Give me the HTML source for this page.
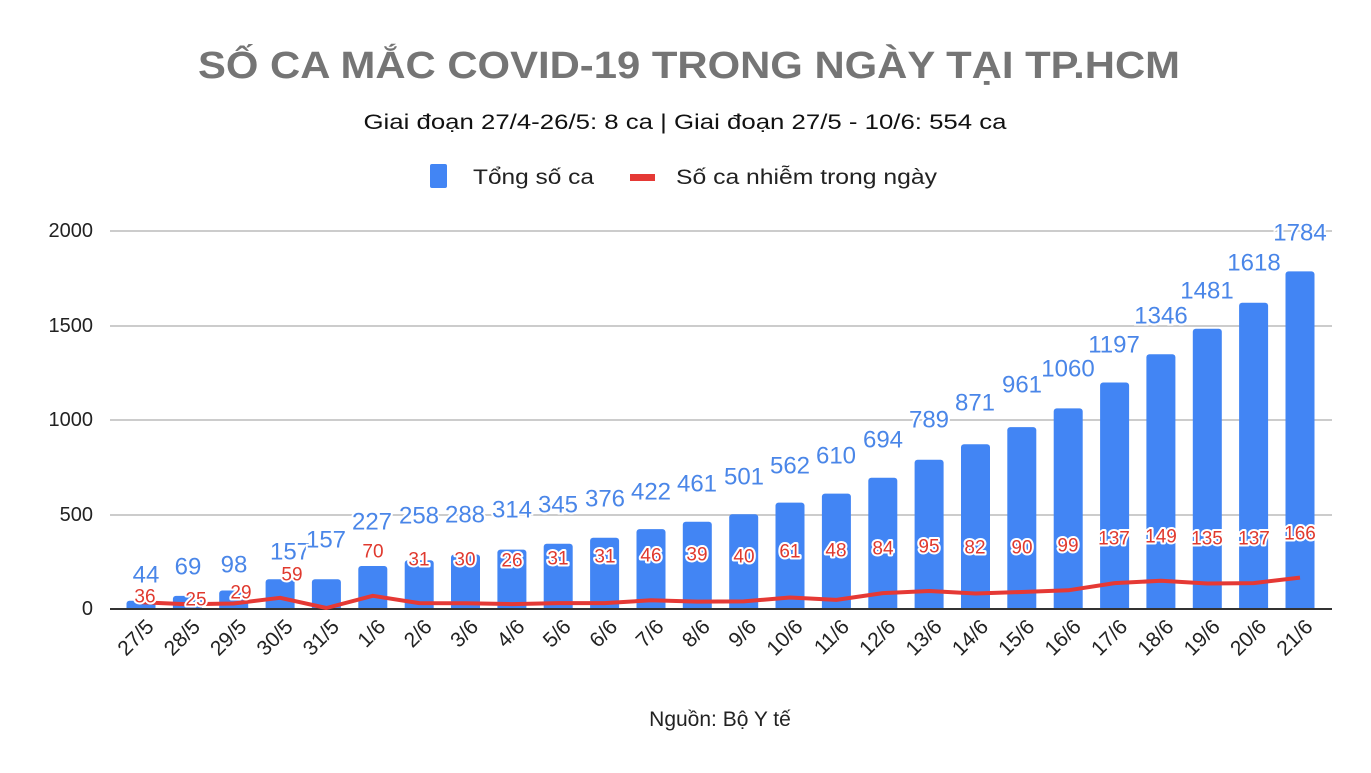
<!DOCTYPE html>
<html><head><meta charset="utf-8"><style>
html,body{margin:0;padding:0;background:#fff;}
svg{display:block;font-family:"Liberation Sans",Arial,sans-serif;}
.bl{fill:#4a86e8;font-size:24px;text-anchor:middle;dominant-baseline:central;stroke:#fff;stroke-width:4px;paint-order:stroke;}
.rl{fill:#e0392e;font-size:19px;text-anchor:middle;dominant-baseline:central;stroke:#fff;stroke-width:4px;paint-order:stroke;stroke-linejoin:round;}
.xl{font-size:21px;fill:#222;text-anchor:end;}
.yl{font-size:20px;fill:#222;text-anchor:end;dominant-baseline:central;}
</style></head><body>
<svg width="1371" height="773" viewBox="0 0 1371 773">
<rect width="1371" height="773" fill="#fff"/>
<text x="689" y="78" font-size="38" font-weight="bold" fill="#757575" text-anchor="middle" textLength="982" lengthAdjust="spacingAndGlyphs">SỐ CA MẮC COVID-19 TRONG NGÀY TẠI TP.HCM</text>
<text x="685" y="129" font-size="21" fill="#111" text-anchor="middle" textLength="643" lengthAdjust="spacingAndGlyphs">Giai đoạn 27/4-26/5: 8 ca  | Giai đoạn 27/5 - 10/6: 554 ca</text>
<rect x="430" y="164" width="17" height="24" rx="2" fill="#4285f4"/>
<text x="473" y="184" font-size="21" fill="#222" textLength="121" lengthAdjust="spacingAndGlyphs">Tổng số ca</text>
<rect x="630" y="174" width="25" height="7" fill="#e53935"/>
<text x="676" y="184" font-size="21" fill="#222" textLength="261" lengthAdjust="spacingAndGlyphs">Số ca nhiễm trong ngày</text>
<g stroke="#ccc" stroke-width="2">
<line x1="110" y1="231" x2="1332" y2="231"/><line x1="110" y1="326" x2="1332" y2="326"/><line x1="110" y1="420" x2="1332" y2="420"/><line x1="110" y1="515" x2="1332" y2="515"/>
</g>
<g fill="#4285f4">
<rect x="126.5" y="600.7" width="29" height="12" rx="3"/>
<rect x="172.9" y="595.9" width="29" height="17" rx="3"/>
<rect x="219.2" y="590.5" width="29" height="22" rx="3"/>
<rect x="265.6" y="579.3" width="29" height="33" rx="3"/>
<rect x="311.9" y="579.3" width="29" height="33" rx="3"/>
<rect x="358.3" y="566" width="29" height="47" rx="3"/>
<rect x="404.7" y="560.2" width="29" height="52" rx="3"/>
<rect x="451" y="554.5" width="29" height="58" rx="3"/>
<rect x="497.4" y="549.6" width="29" height="63" rx="3"/>
<rect x="543.7" y="543.7" width="29" height="69" rx="3"/>
<rect x="590.1" y="537.8" width="29" height="75" rx="3"/>
<rect x="636.5" y="529.1" width="29" height="84" rx="3"/>
<rect x="682.8" y="521.8" width="29" height="91" rx="3"/>
<rect x="729.2" y="514.2" width="29" height="99" rx="3"/>
<rect x="775.5" y="502.6" width="29" height="110" rx="3"/>
<rect x="821.9" y="493.6" width="29" height="119" rx="3"/>
<rect x="868.3" y="477.7" width="29" height="135" rx="3"/>
<rect x="914.6" y="459.7" width="29" height="153" rx="3"/>
<rect x="961" y="444.2" width="29" height="168" rx="3"/>
<rect x="1007.3" y="427.1" width="29" height="185" rx="3"/>
<rect x="1053.7" y="408.4" width="29" height="204" rx="3"/>
<rect x="1100.1" y="382.5" width="29" height="230" rx="3"/>
<rect x="1146.4" y="354.3" width="29" height="258" rx="3"/>
<rect x="1192.8" y="328.7" width="29" height="284" rx="3"/>
<rect x="1239.1" y="302.8" width="29" height="310" rx="3"/>
<rect x="1285.5" y="271.4" width="29" height="341" rx="3"/>
</g>
<rect x="0" y="610" width="1371" height="163" fill="#fff"/>
<text class="yl" x="93" y="231">2000</text><text class="yl" x="93" y="326">1500</text><text class="yl" x="93" y="420">1000</text><text class="yl" x="93" y="515">500</text><text class="yl" x="93" y="609">0</text>
<line x1="110" y1="609" x2="1332" y2="609" stroke="#333" stroke-width="2"/>
<polyline fill="none" stroke="#e53935" stroke-width="4" stroke-linejoin="round" points="141,602.2 187.4,604.3 233.7,603.5 280.1,597.8 326.4,608 372.8,595.8 419.2,603.1 465.5,603.3 511.9,604.1 558.2,603.1 604.6,603.1 651,600.3 697.3,601.6 743.7,601.4 790,597.5 836.4,599.9 882.8,593.1 929.1,591 975.5,593.5 1021.8,592 1068.2,590.3 1114.6,583.1 1160.9,580.8 1207.3,583.5 1253.6,583.1 1300,577.6"/>
<g>
<text class="bl" x="146" y="575">44</text><text class="bl" x="188" y="567">69</text><text class="bl" x="234" y="565">98</text><text class="bl" x="290" y="552">157</text><text class="bl" x="326" y="540">157</text><text class="bl" x="372" y="522">227</text><text class="bl" x="419" y="516">258</text><text class="bl" x="465" y="515">288</text><text class="bl" x="512" y="510">314</text><text class="bl" x="558" y="505">345</text><text class="bl" x="605" y="499">376</text><text class="bl" x="651" y="492">422</text><text class="bl" x="697" y="484">461</text><text class="bl" x="744" y="477">501</text><text class="bl" x="790" y="466">562</text><text class="bl" x="836" y="456">610</text><text class="bl" x="883" y="440">694</text><text class="bl" x="929" y="420">789</text><text class="bl" x="975" y="403">871</text><text class="bl" x="1022" y="385">961</text><text class="bl" x="1068" y="369">1060</text><text class="bl" x="1114" y="345">1197</text><text class="bl" x="1161" y="316">1346</text><text class="bl" x="1207" y="291">1481</text><text class="bl" x="1254" y="263">1618</text><text class="bl" x="1300" y="233">1784</text>
</g>
<g>
<text class="rl" x="145" y="597">36</text><text class="rl" x="196" y="600">25</text><text class="rl" x="241" y="593">29</text><text class="rl" x="292" y="575">59</text><text class="rl" x="373" y="552">70</text><text class="rl" x="419" y="560">31</text><text class="rl" x="465" y="560">30</text><text class="rl" x="512" y="561">26</text><text class="rl" x="558" y="559">31</text><text class="rl" x="605" y="557">31</text><text class="rl" x="651" y="556">46</text><text class="rl" x="697" y="555">39</text><text class="rl" x="744" y="557">40</text><text class="rl" x="790" y="552">61</text><text class="rl" x="836" y="551">48</text><text class="rl" x="883" y="549">84</text><text class="rl" x="929" y="547">95</text><text class="rl" x="975" y="548">82</text><text class="rl" x="1022" y="548">90</text><text class="rl" x="1068" y="546">99</text><text class="rl" x="1114" y="539">137</text><text class="rl" x="1161" y="537">149</text><text class="rl" x="1207" y="539">135</text><text class="rl" x="1254" y="539">137</text><text class="rl" x="1300" y="534">166</text>
</g>
<g>
<text class="xl" transform="translate(155,628) rotate(-45)">27/5</text>
<text class="xl" transform="translate(201.4,628) rotate(-45)">28/5</text>
<text class="xl" transform="translate(247.7,628) rotate(-45)">29/5</text>
<text class="xl" transform="translate(294.1,628) rotate(-45)">30/5</text>
<text class="xl" transform="translate(340.4,628) rotate(-45)">31/5</text>
<text class="xl" transform="translate(386.8,628) rotate(-45)">1/6</text>
<text class="xl" transform="translate(433.2,628) rotate(-45)">2/6</text>
<text class="xl" transform="translate(479.5,628) rotate(-45)">3/6</text>
<text class="xl" transform="translate(525.9,628) rotate(-45)">4/6</text>
<text class="xl" transform="translate(572.2,628) rotate(-45)">5/6</text>
<text class="xl" transform="translate(618.6,628) rotate(-45)">6/6</text>
<text class="xl" transform="translate(665,628) rotate(-45)">7/6</text>
<text class="xl" transform="translate(711.3,628) rotate(-45)">8/6</text>
<text class="xl" transform="translate(757.7,628) rotate(-45)">9/6</text>
<text class="xl" transform="translate(804,628) rotate(-45)">10/6</text>
<text class="xl" transform="translate(850.4,628) rotate(-45)">11/6</text>
<text class="xl" transform="translate(896.8,628) rotate(-45)">12/6</text>
<text class="xl" transform="translate(943.1,628) rotate(-45)">13/6</text>
<text class="xl" transform="translate(989.5,628) rotate(-45)">14/6</text>
<text class="xl" transform="translate(1035.8,628) rotate(-45)">15/6</text>
<text class="xl" transform="translate(1082.2,628) rotate(-45)">16/6</text>
<text class="xl" transform="translate(1128.6,628) rotate(-45)">17/6</text>
<text class="xl" transform="translate(1174.9,628) rotate(-45)">18/6</text>
<text class="xl" transform="translate(1221.3,628) rotate(-45)">19/6</text>
<text class="xl" transform="translate(1267.6,628) rotate(-45)">20/6</text>
<text class="xl" transform="translate(1314,628) rotate(-45)">21/6</text>
</g>
<text x="720" y="726" font-size="21" fill="#222" text-anchor="middle">Nguồn: Bộ Y tế</text>
</svg>
</body></html>
